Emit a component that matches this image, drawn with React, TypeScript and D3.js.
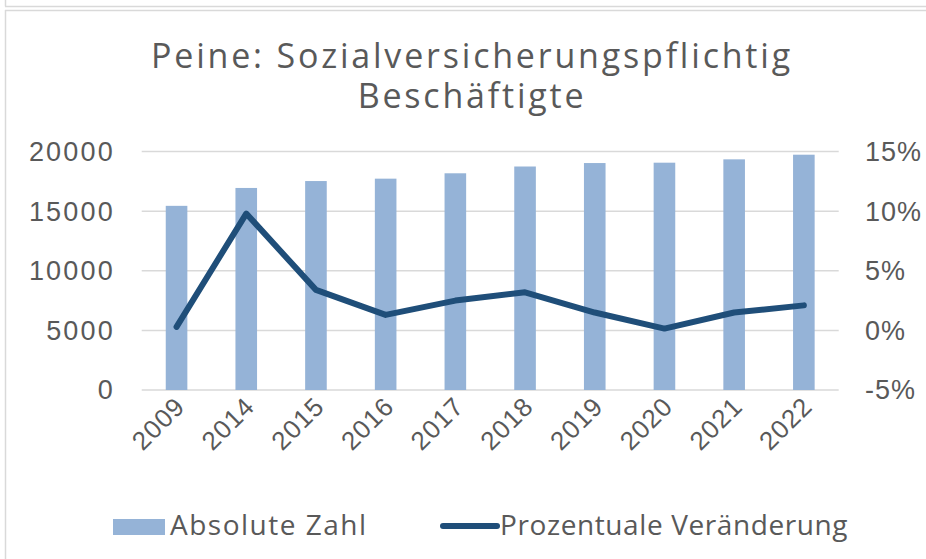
import React from 'react'
import * as d3 from 'd3'

const years = ['2009', '2014', '2015', '2016', '2017', '2018', '2019', '2020', '2021', '2022']
const absolute = [15450, 16950, 17530, 17730, 18180, 18750, 19040, 19070, 19350, 19740]
const change = [0.3, 9.8, 3.4, 1.3, 2.5, 3.2, 1.5, 0.15, 1.5, 2.1]
const leftTicks = [0, 5000, 10000, 15000, 20000]
const rightTicks = [-5, 0, 5, 10, 15]

const W = 926
const H = 559
const plot = { left: 141.7, right: 838.7, top: 151.6, bottom: 390 }
const textColor = '#595959'
const titleFont = '"Open Sans", sans-serif'
const axisFont = '"Liberation Sans", Arial, sans-serif'

export default function App() {
  const x = d3.scaleBand().domain(years).range([plot.left, plot.right])
  const yLeft = d3.scaleLinear().domain([0, 20000]).range([plot.bottom, plot.top])
  const yRight = d3.scaleLinear().domain([-5, 15]).range([plot.bottom, plot.top])
  const barW = 21.6

  const line = d3.line<number>()
    .x((_, i) => (x(years[i]) as number) + x.bandwidth() / 2)
    .y(d => yRight(d))

  return (
    <svg width={W} height={H} style={{ position: 'absolute', left: 0, top: 0, background: '#fff' }}>
      {/* frame */}
      <line x1={5} x2={W} y1={6.5} y2={6.5} stroke="#d9d9d9" strokeWidth={1.5} />
      <line x1={5.5} x2={5.5} y1={0} y2={6.5} stroke="#d9d9d9" strokeWidth={1.5} />
      <line x1={5} x2={W} y1={10.5} y2={10.5} stroke="#d9d9d9" strokeWidth={1.5} />
      <line x1={5.5} x2={5.5} y1={10} y2={H} stroke="#d9d9d9" strokeWidth={1.5} />

      {/* title */}
      <text x={472} y={68} textAnchor="middle" fontFamily={titleFont} fontSize={34} letterSpacing={2.8} fill={textColor}>
        Peine: Sozialversicherungspflichtig
      </text>
      <text x={472} y={108} textAnchor="middle" fontFamily={titleFont} fontSize={34} letterSpacing={2.8} fill={textColor}>
        Beschäftigte
      </text>

      {/* grid */}
      {leftTicks.map(t => (
        <line key={t} x1={plot.left} x2={plot.right} y1={yLeft(t)} y2={yLeft(t)} stroke="#d9d9d9" strokeWidth={1.5} />
      ))}

      {/* bars */}
      {absolute.map((v, i) => {
        const cx = (x(years[i]) as number) + x.bandwidth() / 2
        return (
          <rect key={years[i]} x={cx - barW / 2} y={yLeft(v)} width={barW} height={yLeft(0) - yLeft(v)} fill="#95b3d7" />
        )
      })}

      {/* line */}
      <path d={line(change) as string} fill="none" stroke="#1f4e79" strokeWidth={6} strokeLinecap="round" strokeLinejoin="round" />

      {/* left axis */}
      {leftTicks.map(t => (
        <text key={t} x={115} y={yLeft(t)} dy="0.35em" textAnchor="end" fontFamily={axisFont} fontSize={27} letterSpacing={2.2} fill={textColor}>
          {t}
        </text>
      ))}

      {/* right axis */}
      {rightTicks.map(t => (
        <text key={t} x={865} y={yRight(t)} dy="0.35em" textAnchor="start" fontFamily={axisFont} fontSize={27} letterSpacing={1} fill={textColor}>
          {t}%
        </text>
      ))}

      {/* x labels */}
      {years.map(yr => {
        const cx = (x(yr) as number) + x.bandwidth() / 2
        return (
          <text key={yr} transform={`translate(${cx + 10},${408}) rotate(-45)`} textAnchor="end" fontFamily={axisFont} fontSize={26} letterSpacing={1} fill={textColor}>
            {yr}
          </text>
        )
      })}

      {/* legend */}
      <rect x={113} y={519} width={52} height={16} fill="#95b3d7" />
      <text x={170} y={535} fontFamily={titleFont} fontSize={28} letterSpacing={1.5} fill={textColor}>Absolute Zahl</text>
      <line x1={443} x2={497} y1={526} y2={526} stroke="#1f4e79" strokeWidth={6} strokeLinecap="round" />
      <text x={500} y={535} fontFamily={titleFont} fontSize={28} letterSpacing={0.6} fill={textColor}>Prozentuale Veränderung</text>
    </svg>
  )
}
